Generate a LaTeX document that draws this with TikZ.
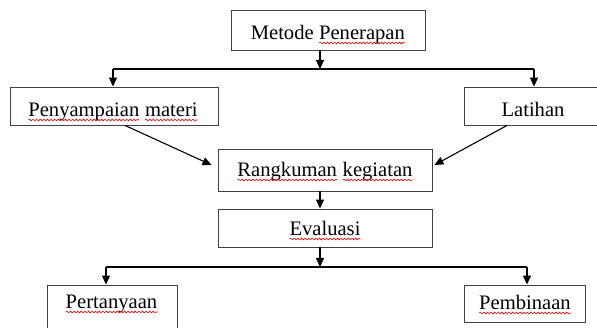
\documentclass[tikz,border=0pt]{standalone}
\usepackage{fontspec}
\setmainfont{Liberation Serif}
\usetikzlibrary{arrows.meta,decorations.pathmorphing}
\tikzset{
  wavy/.style={draw=red!85!black, line width=0.55pt, decorate,
    decoration={snake, segment length=3.6pt, amplitude=0.9pt}},
  box/.style={draw=black!75, line width=0.9pt, inner sep=0pt, rectangle},
  lbl/.style={anchor=base, inner sep=0pt, font=\fontsize{20.6}{24}\selectfont},
  conn/.style={draw=black, line width=1.1pt},
  arr/.style={conn, -{Triangle[length=9pt,width=8pt]}}
}
\newcommand\wv[1]{\tikz[baseline=(wvw.base)]{\node[inner sep=0pt,outer sep=0pt](wvw){#1};\draw[wavy] ([yshift=-3pt]wvw.base west) -- ([yshift=-3pt]wvw.base east);}}
\begin{document}
\begin{tikzpicture}[x=1pt,y=-1pt]
\clip (0,0) rectangle (597,328);
% boxes
\node[box, minimum width=194pt, minimum height=40pt] (m) at (328,30) {};
\node[box, minimum width=208pt, minimum height=38pt] (p) at (114,106) {};
\node[box, minimum width=138pt, minimum height=38pt] (l) at (533,106) {};
\node[box, minimum width=214pt, minimum height=42pt] (r) at (325,170) {};
\node[box, minimum width=214pt, minimum height=38pt] (e) at (325,228) {};
\node[box, minimum width=130pt, minimum height=60pt] (q) at (112,315) {};
\node[box, minimum width=121pt, minimum height=37pt] (b) at (524.5,303.5) {};
% texts
\node[lbl] (tm) at (328,40) {Metode \wv{Penerapan}};
\node[lbl] (tp) at (113,117) {\wv{Penyampaian} \wv{materi}};
\node[lbl] (tl) at (533,117) {Latihan};
\node[lbl] (tr) at (325,177) {\wv{Rangkuman} \wv{kegiatan}};
\node[lbl] (te) at (325,236) {\wv{Evaluasi}};
\node[lbl] (tq) at (111.5,309) {\wv{Pertanyaan}};
\node[lbl] (tb) at (525,310) {\wv{Pembinaan}};
% connectors
\coordinate (c) at (320,0);
\coordinate (j1) at (320,69);
\coordinate (jl) at (113,69);
\coordinate (jr) at (534,69);
\draw[arr] (c |- m.south) -- (j1);
\draw[conn] (jl) -- (jr);
\draw[arr] (jl) -- (jl |- p.north);
\draw[arr] (jr) -- (jr |- l.north);
\draw[arr] ([xshift=11pt]p.south) -- ([xshift=-6pt,yshift=5pt]r.west);
\draw[arr] ([xshift=-26pt]l.south) -- ([xshift=2pt,yshift=5pt]r.east);
\draw[arr] (c |- r.south) -- (c |- e.north);
\coordinate (j3) at (320,267);
\coordinate (kl) at (106,267);
\coordinate (kr) at (527,267);
\draw[arr] (c |- e.south) -- (j3);
\draw[conn] (kl) -- (kr);
\draw[arr] (kl) -- (kl |- q.north);
\draw[arr] (kr) -- (kr |- b.north);
\end{tikzpicture}
\end{document}
